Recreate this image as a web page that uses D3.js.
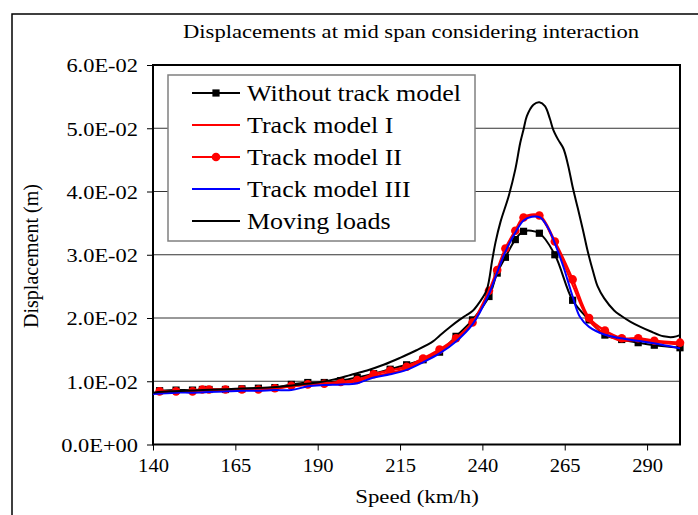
<!DOCTYPE html>
<html><head><meta charset="utf-8">
<script src="https://cdn.jsdelivr.net/npm/d3@7"></script>
<style>body{margin:0;background:#fff}</style>
</head><body><svg id="c" width="698" height="515"></svg>
<script>
const title = "Displacements at mid span considering interaction";
const xTicks = [140,165,190,215,240,265,290];
const yTicks = [0,0.01,0.02,0.03,0.04,0.05,0.06];
const yTickLabels = ["0.0E+00","1.0E-02","2.0E-02","3.0E-02","4.0E-02","5.0E-02","6.0E-02"];
const seriesNames = ["Without track model","Track model I","Track model II","Track model III","Moving loads"];

const speedsA = [142,147,152,155,157,162,167,172,177,182,187,192,197,202,207,212,217,222,227,232,237,242,244.5,247,250,252.5,257.3,262,267.4,272.4,277.2,282.3,287.3,292.2,300];
const withoutTrack = [0.0085,0.0086,0.0086,0.0087,0.0087,0.0087,0.0088,0.0089,0.0090,0.0095,0.0098,0.0098,0.0101,0.0106,0.0112,0.0119,0.0126,0.0134,0.0146,0.0171,0.0197,0.0234,0.0271,0.0296,0.0324,0.0337,0.0334,0.0300,0.0228,0.0197,0.0173,0.0166,0.0161,0.0157,0.0153];
const trackI = [0.0083,0.0083,0.0084,0.0086,0.0086,0.0086,0.0087,0.0087,0.0088,0.0092,0.0094,0.0095,0.0097,0.0100,0.0108,0.0113,0.0120,0.0133,0.0147,0.0166,0.0191,0.0240,0.0273,0.0306,0.0336,0.0356,0.0360,0.0318,0.0252,0.0196,0.0175,0.0164,0.0165,0.0162,0.0158];
const trackII = [0.0084,0.0084,0.0084,0.0087,0.0087,0.0087,0.0087,0.0087,0.0089,0.0093,0.0095,0.0096,0.0099,0.0102,0.0111,0.0117,0.0123,0.0136,0.0150,0.0168,0.0193,0.0243,0.0276,0.0310,0.0338,0.0359,0.0362,0.0321,0.0261,0.0200,0.0180,0.0168,0.0168,0.0164,0.0161];
const speedsIII = [140,147,152,157,162,167,172,177,182,187,192,197,202,207,212,217,222,227,232,237,242,244.5,247,250,252.5,255,257.5,260,262,264.6,267.4,269.6,272.4,277,282,287,292,300];
const trackIII = [0.0080,0.0082,0.0082,0.0083,0.0084,0.0085,0.0085,0.0086,0.0086,0.0092,0.0094,0.0095,0.0097,0.0106,0.0111,0.0118,0.0130,0.0144,0.0163,0.0190,0.0238,0.0272,0.0305,0.0335,0.0354,0.0360,0.0359,0.0342,0.0318,0.0281,0.0234,0.0202,0.0186,0.0174,0.0168,0.0164,0.0160,0.0152];
const speedsML = [140,145,150,155,160,165,170,175,180,185,190,195,200,205,210,215,220,225,227,230,233,235,237,239,241.3,243,244,245.5,248,250,251.5,252.5,253.5,255.5,257.3,259,260.5,261.5,263,264.6,266,267.5,269,270.5,272,273.7,275,277,280,282,285,288,291,295,298,300];
const movingLoads = [0.0082,0.0084,0.0085,0.0086,0.0087,0.0088,0.0089,0.0090,0.0092,0.0095,0.0098,0.0103,0.0110,0.0117,0.0126,0.0137,0.0149,0.0163,0.0172,0.0185,0.0197,0.0204,0.0211,0.0224,0.0244,0.0292,0.0320,0.0352,0.0393,0.0435,0.0477,0.0498,0.0519,0.0537,0.0541,0.0535,0.0515,0.0498,0.0482,0.0468,0.0442,0.0405,0.0373,0.0340,0.0305,0.0272,0.0250,0.0231,0.0212,0.0204,0.0194,0.0186,0.0179,0.0171,0.0170,0.0173];

const FONT = '"Liberation Serif"';
const svg = d3.select("#c").style("font-family", FONT);
const L = 153, R = 680, T = 65, B = 444.5;
const x = d3.scaleLinear().domain([140,300]).range([L,R]);
const y = d3.scaleLinear().domain([0,0.06]).range([B,T]);

svg.append("rect").attr("width",698).attr("height",515).attr("fill","#fff");
svg.append("rect").attr("x",12).attr("y",14).attr("width",700).attr("height",520)
  .attr("fill","none").attr("stroke","#000").attr("stroke-width",1.5);

function stretch(sel, f){
  sel.each(function(){
    const w = this.getComputedTextLength();
    this.setAttribute("textLength",(w*f).toFixed(1));
    this.setAttribute("lengthAdjust","spacingAndGlyphs");
  });
}

svg.append("text").attr("x",411).attr("y",38).attr("text-anchor","middle")
  .style("font-family",FONT).style("font-size","19px").text(title)
  .attr("textLength",456).attr("lengthAdjust","spacingAndGlyphs");

svg.append("g").selectAll("line").data(yTicks.filter(d=>d>0 && d<0.06)).join("line")
  .attr("x1",L).attr("x2",R).attr("y1",d=>y(d)).attr("y2",d=>y(d))
  .attr("stroke","#333").attr("stroke-width",1);

const yAxis = d3.axisLeft(y).tickValues(yTicks).tickSize(6).tickPadding(9)
  .tickFormat((d,i)=>yTickLabels[i]);
const gy = svg.append("g").attr("transform",`translate(${L},0)`).call(yAxis);
const xAxis = d3.axisBottom(x).tickValues(xTicks).tickSize(6).tickPadding(8);
const gx = svg.append("g").attr("transform",`translate(0,${B})`).call(xAxis);
[gy,gx].forEach(g=>{
  g.select(".domain").remove();
  g.attr("font-family",FONT).attr("font-size",null);
  g.selectAll(".tick line").attr("stroke","#000").attr("stroke-width",1);
  g.selectAll(".tick text").style("font-family",FONT).style("font-size","19px").attr("fill","#000");
});
gy.selectAll(".tick text").attr("dy","0.36em");
stretch(gy.selectAll(".tick text"), 1.18);
stretch(gx.selectAll(".tick text"), 1.08);

svg.append("rect").attr("x",L).attr("y",T).attr("width",R-L).attr("height",B-T)
  .attr("fill","none").attr("stroke","#000").attr("stroke-width",2);

const xt = svg.append("text").attr("x",417).attr("y",503).attr("text-anchor","middle")
  .style("font-family",FONT).style("font-size","19px").text("Speed (km/h)");
stretch(xt, 1.2);
svg.append("text").attr("transform","translate(38,256) rotate(-90)").attr("text-anchor","middle")
  .style("font-family",FONT).style("font-size","20px").text("Displacement (m)");

const line = d3.line().x(d=>x(d[0])).y(d=>y(d[1])).curve(d3.curveCatmullRom.alpha(0.5));
const plot = svg.append("g");
function draw(sp, vals, color, w){
  plot.append("path").datum(sp.map((s,i)=>[s,vals[i]])).attr("d",line)
    .attr("fill","none").attr("stroke",color).attr("stroke-width",w).attr("stroke-linejoin","round");
}
draw(speedsA, withoutTrack, "#000", 2);
plot.append("g").selectAll("rect").data(speedsA.map((s,i)=>[s,withoutTrack[i]])).join("rect")
  .attr("x",d=>x(d[0])-3.6).attr("y",d=>y(d[1])-3.6).attr("width",7.2).attr("height",7.2).attr("fill","#000");
draw(speedsA, trackI, "#ff0000", 2);
draw(speedsA, trackII, "#ff0000", 2.5);
plot.append("g").selectAll("circle").data(speedsA.map((s,i)=>[s,trackII[i]])).join("circle")
  .attr("cx",d=>x(d[0])).attr("cy",d=>y(d[1])).attr("r",4.3).attr("fill","#ff0000");
draw(speedsIII, trackIII, "#0000ff", 2);
draw(speedsML, movingLoads, "#000", 2);

const lg = svg.append("g");
lg.append("rect").attr("x",168).attr("y",75).attr("width",307).attr("height",166)
  .attr("fill","#fff").attr("stroke","#808080").attr("stroke-width",1.5);
const colors = ["#000","#ff0000","#ff0000","#0000ff","#000"];
seriesNames.forEach((n,i)=>{
  const yy = 93 + i*32;
  lg.append("line").attr("x1",192).attr("x2",240).attr("y1",yy).attr("y2",yy).attr("stroke",colors[i]).attr("stroke-width",2);
  if(i===0) lg.append("rect").attr("x",216-3.6).attr("y",yy-3.6).attr("width",7.2).attr("height",7.2).attr("fill","#000");
  if(i===2) lg.append("circle").attr("cx",216).attr("cy",yy).attr("r",4.3).attr("fill","#ff0000");
  const t = lg.append("text").attr("x",247).attr("y",yy+8).style("font-family",FONT).style("font-size","23px").text(n);
  stretch(t, 1.13);
});
</script></body></html>
